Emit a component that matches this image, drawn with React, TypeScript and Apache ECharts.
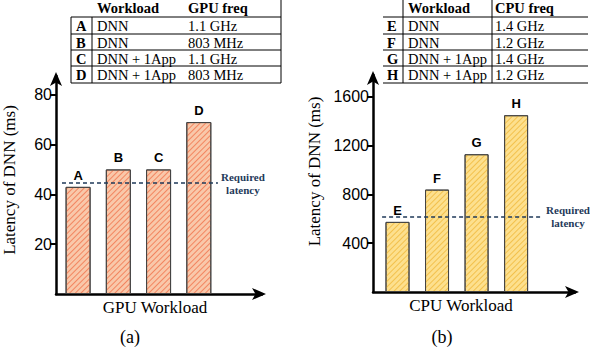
import React, { useEffect, useRef } from "react";
import * as echarts from "echarts";

const gpuCategories = ["A", "B", "C", "D"];
const gpuLatency = [43, 50, 50, 69];
const gpuRequired = 44.5;
const gpuTicks = [20, 40, 60, 80];

const cpuCategories = ["E", "F", "G", "H"];
const cpuLatency = [575, 840, 1130, 1450];
const cpuRequired = 620;
const cpuTicks = [400, 800, 1200, 1600];

const tableHeaderGpu = ["Workload", "GPU freq"];
const tableRowsGpu = [
  ["A", "DNN", "1.1 GHz"],
  ["B", "DNN", "803 MHz"],
  ["C", "DNN + 1App", "1.1 GHz"],
  ["D", "DNN + 1App", "803 MHz"],
];
const tableHeaderCpu = ["Workload", "CPU freq"];
const tableRowsCpu = [
  ["E", "DNN", "1.4 GHz"],
  ["F", "DNN", "1.2 GHz"],
  ["G", "DNN + 1App", "1.4 GHz"],
  ["H", "DNN + 1App", "1.2 GHz"],
];

const SERIF = "'Liberation Serif', 'Times New Roman', serif";
const SANS = "'Liberation Sans', Arial, sans-serif";

function buildTable(
  header: string[],
  rows: string[][],
  x0: number,
  xDiv: number,
  xDiv2: number | null,
  x1: number,
  colX: number[],
  rightBorder: boolean,
  leftBorder: boolean
) {
  const els: any[] = [];
  const lineYs = [17, 34, 50, 66, 83];
  const ls = { stroke: "#000", lineWidth: 1 };
  lineYs.forEach((y) =>
    els.push({ type: "line", shape: { x1: x0, y1: y, x2: x1, y2: y }, style: ls })
  );
  if (leftBorder)
    els.push({ type: "line", shape: { x1: x0, y1: 17, x2: x0, y2: 83 }, style: ls });
  els.push({
    type: "line",
    shape: { x1: xDiv, y1: xDiv2 !== null ? 0 : 17, x2: xDiv, y2: 83 },
    style: ls,
  });
  if (xDiv2 !== null)
    els.push({ type: "line", shape: { x1: xDiv2, y1: 0, x2: xDiv2, y2: 83 }, style: ls });
  if (rightBorder)
    els.push({ type: "line", shape: { x1: x1, y1: 0, x2: x1, y2: 83 }, style: ls });
  header.forEach((h, i) =>
    els.push({
      type: "text",
      x: colX[i + 1],
      y: 8,
      style: {
        text: h,
        font: `bold 14.5px ${SERIF}`,
        fill: "#000",
        verticalAlign: "middle",
      },
    })
  );
  rows.forEach((r, ri) => {
    const cy = (lineYs[ri] + lineYs[ri + 1]) / 2 + 0.5;
    r.forEach((c, ci) =>
      els.push({
        type: "text",
        x: colX[ci],
        y: cy,
        style: {
          text: c,
          font: `${ci === 0 ? "bold " : ""}14.5px ${SERIF}`,
          fill: "#000",
          verticalAlign: "middle",
        },
      })
    );
  });
  return els;
}

export default function App() {
  const ref = useRef<HTMLDivElement>(null);
  useEffect(() => {
    if (!ref.current) return;
    const chart = echarts.init(ref.current, undefined, { renderer: "svg" });

    const axisLine = {
      show: true,
      onZero: false,
      symbol: ["none", "arrow"],
      symbolSize: [9, 14],
      symbolOffset: [0, 4],
      lineStyle: { color: "#000", width: 2.5 },
    };

    const makeY = (gridIndex: number, max: number, ticks: number[], nameGap: number, shiftUp: number) => ({
      type: "value",
      gridIndex,
      min: 0,
      max,
      axisLine,
      axisTick: {
        show: true,
        customValues: ticks,
        length: 6,
        lineStyle: { color: "#000", width: 2 },
      },
      axisLabel: {
        customValues: ticks,
        formatter: (v: number) => String(v),
        color: "#000",
        fontFamily: SANS,
        fontSize: 16,
        margin: 4,
      },
      splitLine: { show: false },
      name: "Latency of DNN (ms)",
      nameLocation: "middle",
      nameGap,
      nameTextStyle: {
        fontFamily: SERIF,
        fontSize: 17,
        color: "#000",
        padding: [0, 0, 0, shiftUp * 2],
      },
    });

    const makeX = (gridIndex: number, min: number, max: number, name: string, pad: number[]) => ({
      type: "value",
      gridIndex,
      min,
      max,
      axisLine,
      axisTick: { show: false },
      axisLabel: { show: false },
      splitLine: { show: false },
      name,
      nameLocation: "middle",
      nameGap: 5,
      nameTextStyle: { fontFamily: SERIF, fontSize: 17, color: "#000", padding: pad },
    });

    const makeBar = (
      idx: number,
      cats: string[],
      vals: number[],
      fill: string,
      stripe: string,
      width: number,
      req: number,
      reqFrom: number,
      reqTo: number
    ) => ({
      type: "bar",
      xAxisIndex: idx,
      yAxisIndex: idx,
      barWidth: width,
      data: vals.map((v, i) => ({ value: [i, v], name: cats[i] })),
      itemStyle: {
        color: fill,
        borderColor: "#444",
        borderWidth: 1,
        decal: {
          symbol: "rect",
          symbolSize: 1,
          color: stripe,
          dashArrayX: [1, 0],
          dashArrayY: [1, 3],
          rotation: -Math.PI / 4,
        },
      },
      label: {
        show: true,
        position: "top",
        distance: 5,
        formatter: (p: any) => p.name,
        fontFamily: SANS,
        fontWeight: "bold",
        fontSize: 13,
        color: "#000",
      },
      markLine: {
        silent: true,
        symbol: ["none", "none"],
        lineStyle: { color: "#1f3a5a", type: [4, 3], width: 1.5 },
        label: {
          show: true,
          position: "end",
          distance: 3,
          formatter: "Required\nlatency",
          fontFamily: SERIF,
          fontWeight: "bold",
          fontSize: 11,
          lineHeight: 13,
          color: "#1f3a5a",
          align: "center",
          padding: [0, 0, 0, 44],
        },
        data: [
          [
            { coord: [reqFrom, req] },
            { coord: [reqTo, req] },
          ],
        ],
      },
    });

    chart.setOption({
      animation: false,
      grid: [
        { left: 52, right: 328, top: 76, bottom: 56 },
        { left: 373, right: 15, top: 75, bottom: 58 },
      ],
      xAxis: [
        makeX(0, -0.549, 4.57, "GPU Workload", [0, 8, 0, 0]),
        makeX(1, -0.62, 4.49, "CPU Workload", [0, 26, 0, 0]),
      ],
      yAxis: [makeY(0, 87.5, gpuTicks, 38, 5), makeY(1, 1780, cpuTicks, 50, 12)],
      series: [
        makeBar(0, gpuCategories, gpuLatency, "#f9c8aa", "rgba(240,110,70,0.75)", 25, gpuRequired, -0.4, 3.475),
        makeBar(1, cpuCategories, cpuLatency, "#fde08e", "rgba(240,185,60,0.8)", 24, cpuRequired, -0.39, 3.68),
      ],
      graphic: [
        ...buildTable(tableHeaderGpu, tableRowsGpu, 71, 92, null, 281, [76, 97, 188], true, true),
        ...buildTable(tableHeaderCpu, tableRowsCpu, 383, 403, 492, 588, [387, 408, 495], false, false),
        {
          type: "text",
          x: 130,
          y: 337,
          style: { text: "(a)", font: `18px ${SERIF}`, fill: "#000", align: "center", verticalAlign: "middle" },
        },
        {
          type: "text",
          x: 442,
          y: 337,
          style: { text: "(b)", font: `18px ${SERIF}`, fill: "#000", align: "center", verticalAlign: "middle" },
        },
      ],
    });
    return () => chart.dispose();
  }, []);
  return <div ref={ref} style={{ width: 590, height: 350, position: "absolute", left: 0, top: 0 }} />;
}
